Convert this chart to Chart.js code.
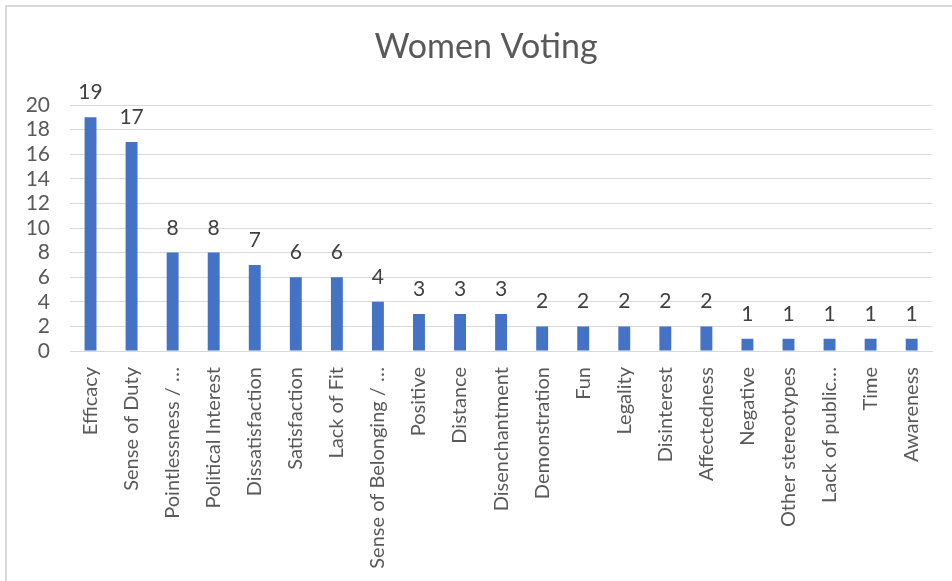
<!DOCTYPE html>
<html>
<head>
<meta charset="utf-8">
<script src="https://cdn.jsdelivr.net/npm/chart.js@4.4.1/dist/chart.umd.min.js"></script>
<style>
html,body{margin:0;padding:0;background:#fff;}
#wrap{position:relative;width:952px;height:581px;}
canvas{display:block;}
</style>
</head>
<body>
<div id="wrap"><canvas id="c" width="952" height="581"></canvas></div>
<script>
const categories = ["Efficacy","Sense of Duty","Pointlessness / \u2026","Political Interest","Dissatisfaction","Satisfaction","Lack of Fit","Sense of Belonging / \u2026","Positive","Distance","Disenchantment","Demonstration","Fun","Legality","Disinterest","Affectedness","Negative","Other stereotypes","Lack of public\u2026","Time","Awareness"];
const values = [19,17,8,8,7,6,6,4,3,3,3,2,2,2,2,2,1,1,1,1,1];
const yTicks = [0,2,4,6,8,10,12,14,16,18,20];
const titleText = "Women Voting";

const FONT = "Lato, 'Open Sans', sans-serif";

const framePlugin = {
  id: 'frame',
  beforeDraw(chart) {
    const ctx = chart.ctx;
    ctx.save();
    ctx.fillStyle = '#ffffff';
    ctx.fillRect(0, 0, chart.width, chart.height);
    ctx.strokeStyle = '#d9d9d9';
    ctx.lineWidth = 2;
    ctx.beginPath();
    ctx.moveTo(6, 581);
    ctx.lineTo(6, 6);
    ctx.lineTo(952, 6);
    ctx.stroke();
    ctx.fillStyle = '#595959';
    ctx.font = "34px " + FONT;
    ctx.textAlign = 'center';
    ctx.textBaseline = 'alphabetic';
    ctx.fillText(titleText, 486, 58);
    ctx.restore();
  }
};

const labelPlugin = {
  id: 'vlabels',
  afterDatasetsDraw(chart) {
    const ctx = chart.ctx;
    const meta = chart.getDatasetMeta(0);
    ctx.save();
    ctx.fillStyle = '#404040';
    ctx.font = "21px " + FONT;
    ctx.textAlign = 'center';
    ctx.textBaseline = 'alphabetic';
    meta.data.forEach((bar, i) => {
      ctx.fillText(String(values[i]), bar.x, bar.y - 18);
    });
    ctx.restore();
  }
};

new Chart(document.getElementById('c'), {
  type: 'bar',
  data: {
    labels: categories,
    datasets: [{
      data: values,
      backgroundColor: '#4472C4',
      borderWidth: 0,
      barPercentage: 0.29,
      categoryPercentage: 1.0
    }]
  },
  options: {
    responsive: false,
    animation: false,
    devicePixelRatio: 1,
    layout: { padding: { top: 105, left: 0, right: 14, bottom: 0 } },
    plugins: { legend: { display: false }, title: { display: false }, tooltip: { enabled: false } },
    scales: {
      x: {
        grid: { display: false, drawTicks: false },
        border: { display: true, color: '#d9d9d9', width: 1 },
        ticks: {
          color: '#595959',
          font: { family: FONT, size: 20 },
          maxRotation: 90, minRotation: 90,
          autoSkip: false,
          padding: 16
        },
        afterFit(scale) { scale.height = 230; }
      },
      y: {
        min: 0, max: 20,
        afterBuildTicks(scale) { scale.ticks = yTicks.map(v => ({ value: v })); },
        grid: { color: '#d9d9d9', lineWidth: 1, drawTicks: false },
        border: { display: false },
        ticks: {
          color: '#595959',
          font: { family: FONT, size: 21 },
          autoSkip: false,
          padding: 20
        },
        afterFit(scale) { scale.width = 70; }
      }
    }
  },
  plugins: [framePlugin, labelPlugin]
});
</script>
</body>
</html>
